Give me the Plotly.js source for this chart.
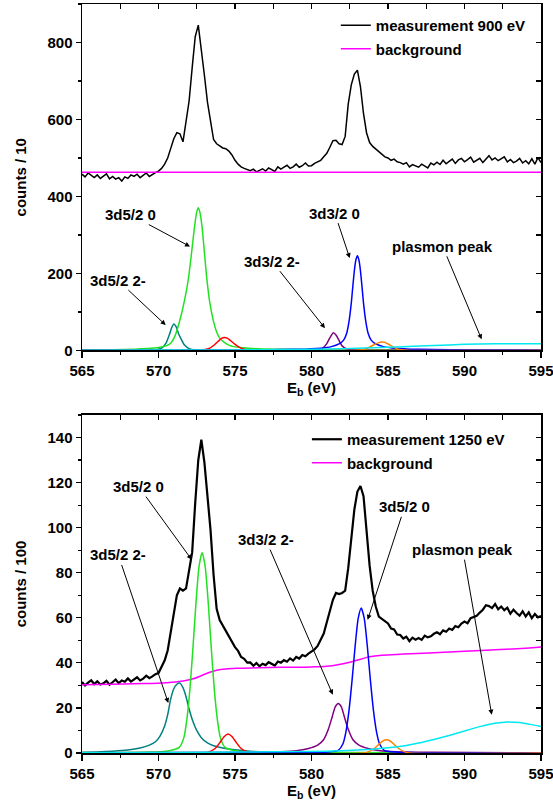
<!DOCTYPE html>
<html><head><meta charset="utf-8">
<script src="https://cdn.plot.ly/plotly-3.0.1.min.js"></script>
<style>html,body{margin:0;padding:0;background:#fff;}</style>
</head><body><div id="chart" style="width:553px;height:802px;"></div>
<script>
// ---------- top panel (900 eV), counts / 10, measured every 0.2 eV from 565 eV ----------
const meas900 = [
458,451,461,455,449, 456,447,453,459,446, 452,445,449,440,451, 447,456,452,458,449, 455,461,452,458,462,
466,473,484,500,525, 550,566,563,542,590, 648,734,815,845,785, 715,645,590,548,537, 531,526,524,518,508,
494,484,477,473,470, 467,471,464,468,472, 466,474,470,465,477, 471,476,481,473,477, 484,476,480,487,479,
480,486,490,494,503, 512,528,545,546,537, 535,556,640,690,718, 728,685,615,565,540, 530,523,516,508,503,
500,494,497,490,488, 484,488,477,483,479, 476,484,480,474,487, 482,489,483,494,485, 491,497,486,495,499,
490,496,502,489,494, 499,488,497,506,495, 500,493,497,503,490, 496,488,492,499,487, 493,485,498,484,501,
488];
const bg900x = [565, 595];
const bg900y = [463, 463];

const t_teal_x = [565,569,569.8,570.2,570.5,570.7,570.85,571.0,571.15,571.3,571.5,571.7,572.0,572.4,573,575,595];
const t_teal_y = [0,0.3,1.5,6,20,40,58,69,62,45,28,14,5,1.5,0.5,0.1,0];
const t_green_x = [565,567,568.5,569.5,570,570.5,570.8,571.1,571.4,571.7,571.95,572.15,572.35,572.5,572.6,572.7,572.85,573.0,573.15,573.35,573.6,573.8,574.0,574.3,574.6,574.9,575.5,576.5,578,580,583,588,595];
const t_green_y = [1,2,3.5,5.5,8,12,19,40,79,130,185,250,320,360,371,360,320,255,190,125,75,48,32,21,14,10,7,4.5,3,2,1.3,0.8,0.5];
const t_red_x = [565,572.5,572.9,573.3,573.6,573.9,574.1,574.3,574.5,574.7,575.0,575.3,575.6,576,577,595];
const t_red_y = [0,0,1,5,13,24,31,34,32,26,16,8,3,0.8,0,0];
const t_purple_x = [565,579.5,580.3,580.7,581.0,581.2,581.43,581.6,581.8,582.0,582.3,582.7,583.5,595];
const t_purple_y = [0,0,1,5,18,33,46,40,26,12,4,1,0,0];
const t_blue_x = [565,572,577,579,580.6,581.3,581.8,582.1,582.3,582.45,582.6,582.7,582.8,582.9,583.0,583.1,583.2,583.3,583.4,583.55,583.7,583.9,584.2,584.7,585.4,587,589,592,595];
const t_blue_y = [0.5,1,2,3,6,10,17,27,45,75,123,166,207,235,246,235,207,166,123,75,45,27,17,10,6,3,2,1.2,0.8];
const t_orange_x = [565,582.8,583.2,583.6,583.9,584.2,584.4,584.6,584.8,585.0,585.3,585.6,586,586.5,595];
const t_orange_y = [0,0,1,5,11,17,20.5,22,21,17,10,4,1,0,0];
const t_cyan_x = [565,570,575,577,580,582,584,586,588,590,592,593.5,595];
const t_cyan_y = [0.5,1,1.5,1.8,3,4.5,7,10,13,16,17.5,17.8,17.3];

// ---------- bottom panel (1250 eV), counts / 100 ----------
const meas1250 = [
31.5,30.0,31.2,32.3,30.6, 31.8,30.4,30.9,32.0,30.3, 31.4,32.6,31.0,32.2,31.6, 33.1,31.7,32.5,33.6,32.2, 33.0,34.3,33.2,34.0,35.0,
35.5,38,41,45.5,54, 62,70,73,72,73, 81,89,111,130,139, 129,114,99,79,64, 59,56.5,54.5,52,49.5,
47,45.3,42.6,41.8,40.1, 40.2,38.7,39.9,38.5,39.6, 39.0,40.3,39.4,38.8,40.6, 40.1,41.2,40.5,42.0,41.0, 42.6,41.9,43.5,42.9,44.1,
45,46,47.5,50,53, 58,63,68,71,70.5, 71,72,82,96,108, 116,118.5,114,97,83, 72,65,60.5,59.5,58.5,
57.5,55.2,54.8,52.6,52.4, 50.8,51.6,49.6,51.2,50.3, 51.0,50.2,52.1,51.3,51.8, 52.9,53.6,52.7,54.4,53.8, 55.2,54.6,56.3,55.8,57.4,
58.3,57.6,59.8,60.4,60.9, 62.3,63.6,65.6,65.2,64.3, 66.1,63.8,65.0,63.4,64.5, 61.8,63.6,62.1,61.0,62.9, 60.6,62.4,59.8,61.7,60.2,
60.8];
const bg1250x = [565,567,569,570.5,571.5,572.2,572.8,573.3,573.8,574.4,575.2,576.5,578,580,581,581.8,582.5,583.2,583.8,584.6,586,588,590,592,594,595];
const bg1250y = [30.3,30.5,30.8,31.2,31.8,32.8,34.3,35.7,36.7,37.3,37.6,37.8,38.0,38.2,38.5,39.3,40.3,41.6,42.7,43.4,43.9,44.5,45.1,45.8,46.5,47.0];

const b_teal_x = [565,566,567,568,568.8,569.4,569.8,570.1,570.4,570.6,570.8,571.0,571.2,571.4,571.6,571.8,572.0,572.2,572.5,572.8,573.2,573.6,574.2,575,576,577,580,595];
const b_teal_y = [0.3,0.5,0.8,1.3,2.2,3.5,5,7.5,12,17,24,28.5,30.5,31,29,25,19.5,15,10,6.8,4.5,3.2,2.2,1.4,0.8,0.5,0.2,0];
const b_green_x = [565,568,569.5,570.5,570.85,571.35,571.65,571.85,572.05,572.25,572.45,572.65,572.85,573.05,573.25,573.45,573.65,573.85,574.05,574.35,574.85,575.2,576.2,578,595];
const b_green_y = [0,0.2,0.4,0.8,1.2,2.5,6.6,14.7,28,46.5,66.7,82.8,89,82.8,66.7,46.5,28,14.7,6.6,2.5,1.2,0.8,0.4,0.2,0];
const b_red_x = [565,573,573.3,573.7,574.0,574.3,574.55,574.8,575.1,575.4,575.8,576.2,595];
const b_red_y = [0,0,0.5,2,4.5,7.3,8.4,7.3,4.5,2,0.5,0,0];
const b_purple_x = [565,575,578,579,579.8,580.4,580.8,581.1,581.35,581.55,581.75,581.95,582.15,582.4,582.7,583.1,583.7,584.5,585.5,588,595];
const b_purple_y = [0.1,0.3,0.6,1,2,3.5,6,10.5,16,20.5,22,20.5,16,10.5,6,3.5,2,1,0.6,0.3,0.1];
const b_blue_x = [565,580,581.0,581.75,582.05,582.25,582.45,582.65,582.85,583.05,583.25,583.45,583.65,583.85,584.05,584.25,584.45,584.75,585.5,587,595];
const b_blue_y = [0,0.1,0.4,1.2,4,9.4,18.8,32.2,47.3,59.6,64.3,59.6,47.3,32.2,18.8,9.4,4,1.2,0.4,0.1,0];
const b_orange_x = [565,583.4,583.7,584.1,584.4,584.65,584.9,585.15,585.4,585.7,586.1,586.4,595];
const b_orange_y = [0,0,0.5,2,3.8,5.3,5.9,5.3,3.8,2,0.5,0,0];
const b_cyan_x = [565,570,575,580,582,584,585,586,587,588,589,590,591,592,592.8,593.6,594.3,595];
const b_cyan_y = [0.1,0.2,0.4,0.7,1.0,1.7,2.3,3.1,4.4,6.0,7.8,9.8,11.7,13.2,13.8,13.5,12.7,11.8];

const xTicks = [565,570,575,580,585,590,595];

// ---------- colours ----------
const C = {meas:'#000000', bg:'#ff00ff', teal:'#008080', green:'#22e022', red:'#ff0000',
           purple:'#800080', blue:'#0000ff', orange:'#ff8000', cyan:'#00e8f0'};

function comp(x, y, color, xa, ya){
  return {x:x, y:y, xaxis:xa, yaxis:ya, mode:'lines', line:{color:color, width:1.5, shape:'spline', smoothing:0.6},
          showlegend:false, hoverinfo:'skip'};
}

const traces = [
  {y:meas900, x0:565, dx:0.2, xaxis:'x', yaxis:'y', mode:'lines', line:{color:C.meas, width:1.5},
   name:'measurement 900 eV', legend:'legend', legendgroup:'m1'},
  {x:bg900x, y:bg900y, xaxis:'x', yaxis:'y', mode:'lines', line:{color:C.bg, width:1.5},
   name:'background', legend:'legend', legendgroup:'b1'},
  comp(t_teal_x, t_teal_y, C.teal, 'x', 'y'),
  comp(t_green_x, t_green_y, C.green, 'x', 'y'),
  comp(t_red_x, t_red_y, C.red, 'x', 'y'),
  comp(t_purple_x, t_purple_y, C.purple, 'x', 'y'),
  comp(t_blue_x, t_blue_y, C.blue, 'x', 'y'),
  comp(t_orange_x, t_orange_y, C.orange, 'x', 'y'),
  comp(t_cyan_x, t_cyan_y, C.cyan, 'x', 'y'),

  {y:meas1250, x0:565, dx:0.2, xaxis:'x2', yaxis:'y2', mode:'lines', line:{color:C.meas, width:2.2},
   name:'measurement 1250 eV', legend:'legend2', legendgroup:'m2'},
  {x:bg1250x, y:bg1250y, xaxis:'x2', yaxis:'y2', mode:'lines', line:{color:C.bg, width:1.5, shape:'spline'},
   name:'background', legend:'legend2', legendgroup:'b2'},
  comp(b_teal_x, b_teal_y, C.teal, 'x2', 'y2'),
  comp(b_green_x, b_green_y, C.green, 'x2', 'y2'),
  comp(b_red_x, b_red_y, C.red, 'x2', 'y2'),
  comp(b_purple_x, b_purple_y, C.purple, 'x2', 'y2'),
  comp(b_blue_x, b_blue_y, C.blue, 'x2', 'y2'),
  comp(b_orange_x, b_orange_y, C.orange, 'x2', 'y2'),
  comp(b_cyan_x, b_cyan_y, C.cyan, 'x2', 'y2'),

  // invisible anchors for the mirrored (inward-tick) frame axes
  {x:[565], y:[0], xaxis:'x3', yaxis:'y3', mode:'markers', marker:{opacity:0}, showlegend:false, hoverinfo:'skip'},
  {x:[565], y:[0], xaxis:'x4', yaxis:'y4', mode:'markers', marker:{opacity:0}, showlegend:false, hoverinfo:'skip'}
];

const F = {family:'Liberation Sans, Arial, sans-serif', size:15, color:'#000', weight:'bold'};
const axBase = {showline:true, linecolor:'#000', linewidth:1.5, showgrid:false, zeroline:false,
                tickcolor:'#000', tickwidth:1.2, tickfont:F, fixedrange:true, ticklabeloverflow:'allow'};

function xMain(anchor){
  return Object.assign({}, axBase, {anchor:anchor, domain:[0,1], range:[565,595], tickmode:'array', tickvals:xTicks,
    ticks:'outside', ticklen:6,
    minor:{dtick:2.5, tick0:565, ticks:'outside', ticklen:3.5, tickcolor:'#000', tickwidth:1.2},
    title:{text:'E<sub>b</sub> (eV)', font:F, standoff:0}});
}
function xTop(over, anchor){
  return Object.assign({}, axBase, {overlaying:over, anchor:anchor, side:'top', range:[565,595],
    tickmode:'linear', tick0:565, dtick:2.5, ticks:'inside', ticklen:5, showticklabels:false});
}
function yMain(anchor, dom, rng, dt, title){
  return Object.assign({}, axBase, {anchor:anchor, domain:dom, range:rng, tickmode:'linear', tick0:0, dtick:dt,
    ticks:'outside', ticklen:5,
    minor:{dtick:dt/2, tick0:0, ticks:'outside', ticklen:3, tickcolor:'#000', tickwidth:1.2},
    title:{text:title, font:F, standoff:17}});
}
function yRight(over, anchor, rng, dt){
  return Object.assign({}, axBase, {overlaying:over, anchor:anchor, side:'right', range:rng,
    tickmode:'linear', tick0:0, dtick:dt/2, ticks:'inside', ticklen:5, showticklabels:false});
}

const topDom = [0.5374, 1];
const botDom = [0, 0.4513];

function ann(text, x, y, ax, ay, xr, yr){
  return {text:text, x:x, y:y, xref:xr, yref:yr, ax:ax, ay:ay, axref:'pixel', ayref:'pixel',
          showarrow:true, arrowhead:2, arrowsize:1, arrowwidth:1, arrowcolor:'#000', font:F,
          standoff:0, startstandoff:0};
}

const layout = {
  width:553, height:802,
  margin:{l:82, r:12, t:4, b:49},
  paper_bgcolor:'#fff', plot_bgcolor:'#fff',
  font:F,
  xaxis: xMain('y'),
  yaxis: yMain('x', topDom, [0,900], 200, 'counts / 10'),
  xaxis2: xMain('y2'),
  yaxis2: yMain('x2', botDom, [0,150], 20, 'counts / 100'),
  xaxis3: xTop('x', 'y'),
  yaxis3: yRight('y', 'x', [0,900], 200),
  xaxis4: xTop('x2', 'y2'),
  yaxis4: yRight('y2', 'x2', [0,150], 20),
  legend: {x:0.553, y:0.9933, xanchor:'left', yanchor:'top', font:F, bgcolor:'rgba(0,0,0,0)', tracegroupgap:1, traceorder:'grouped'},
  legend2:{x:0.490, y:0.4406, xanchor:'left', yanchor:'top', font:F, bgcolor:'rgba(0,0,0,0)', tracegroupgap:1, traceorder:'grouped'},
  annotations: [
    ann('3d5/2 0', 572.06, 270, -60, -32, 'x', 'y'),
    ann('3d5/2 2-', 570.47, 66, -48, -45, 'x', 'y'),
    ann('3d3/2 2-', 580.88, 58, -53, -67, 'x', 'y'),
    ann('3d3/2 0', 582.5, 240, -15, -45, 'x', 'y'),
    ann('plasmon peak', 591.12, 29, -39, -93, 'x', 'y'),
    ann('3d5/2 0', 572.17, 85.8, -53, -73, 'x2', 'y2'),
    ann('3d5/2 2-', 570.64, 22.2, -50, -148, 'x2', 'y2'),
    ann('3d3/2 2-', 581.39, 25.9, -67, -155, 'x2', 'y2'),
    ann('3d5/2 0', 583.67, 59.1, 37, -113, 'x2', 'y2'),
    ann('plasmon peak', 591.78, 17, -29, -165, 'x2', 'y2')
  ]
};

Plotly.newPlot('chart', traces, layout, {displayModeBar:false, staticPlot:true});
</script></body></html>
